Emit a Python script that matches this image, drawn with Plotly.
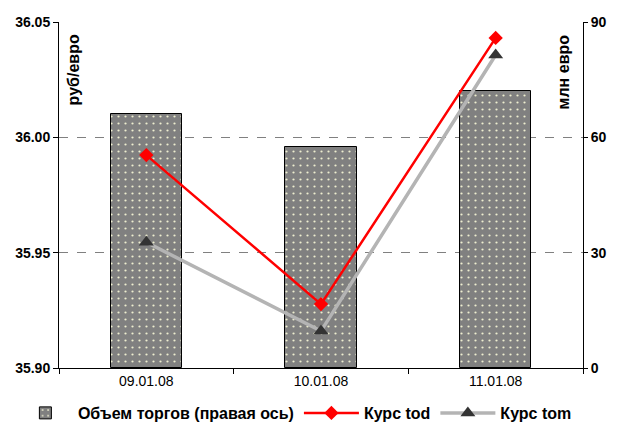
import plotly.graph_objects as go

dates = ["09.01.08", "10.01.08", "11.01.08"]
volume = [66.0, 57.5, 72.0]          # млн евро, правая ось
kurs_tod = [35.9923, 35.9277, 36.0431]  # руб/евро
kurs_tom = [35.9545, 35.9160, 36.0357]

left_ticks = [35.90, 35.95, 36.00, 36.05]
right_ticks = [0, 30, 60, 90]

FONT = "Liberation Sans, Arial, sans-serif"
FS = 14

fig = go.Figure()

fig.add_trace(go.Bar(
    x=dates, y=volume, yaxis="y",
    name="Объем торгов (правая ось)",
    width=0.41,
    marker=dict(
        color="#808080",
        line=dict(color="#000000", width=1),
        pattern=dict(shape=".", fgcolor="#eeeed0", bgcolor="#808080",
                     size=7, solidity=0.08, fillmode="replace"),
    ),
))

fig.add_trace(go.Scatter(
    x=dates, y=kurs_tod, yaxis="y2", mode="lines+markers",
    name="Курс tod",
    line=dict(color="#ff0000", width=2.5),
    marker=dict(symbol="diamond", size=11, color="#ff0000"),
))

fig.add_trace(go.Scatter(
    x=dates, y=kurs_tom, yaxis="y2", mode="lines+markers",
    name="Курс tom",
    line=dict(color="#b4b4b4", width=3.5),
    marker=dict(symbol="triangle-up", size=13, color="#333333"),
))

fig.update_layout(
    width=619, height=424,
    margin=dict(l=59, r=36, t=22, b=56, autoexpand=False),
    paper_bgcolor="white", plot_bgcolor="white",
    font=dict(family=FONT, size=FS, color="#000000"),
    showlegend=True,
    bargap=0,
    xaxis=dict(
        type="category",
        showline=True, linecolor="#000000", linewidth=1,
        ticks="outside", ticklen=5, tickcolor="#000000",
        tickson="boundaries",
        showgrid=False,
        tickfont=dict(family=FONT, size=FS, color="#000000"),
    ),
    yaxis=dict(
        side="right", range=[0, 90], tickvals=right_ticks,
        showline=True, linecolor="#000000", linewidth=1,
        ticks="outside", ticklen=4, tickcolor="#000000",
        showgrid=True, gridcolor="#808080", griddash="dash", gridwidth=1,
        zeroline=False,
        tickfont=dict(family=FONT, size=FS, color="#000000", weight="bold"),
    ),
    yaxis2=dict(
        overlaying="y", side="left", range=[35.90, 36.05],
        tickvals=left_ticks, tickformat=".2f",
        showline=True, linecolor="#000000", linewidth=1,
        ticks="outside", ticklen=5, tickcolor="#000000",
        showgrid=False, zeroline=False,
        tickfont=dict(family=FONT, size=FS, color="#000000", weight="bold"),
    ),
    legend=dict(
        orientation="h", x=-0.088, xanchor="left", y=-0.130, yanchor="middle",
        font=dict(family=FONT, size=16, color="#000000", weight="bold"),
        itemwidth=55, tracegroupgap=0,
        bgcolor="rgba(0,0,0,0)",
    ),
    annotations=[
        dict(text="руб/евро", xref="paper", yref="paper", x=0.0, y=0.97,
             xanchor="left", yanchor="top", xshift=4, textangle=-90, showarrow=False,
             font=dict(family=FONT, size=16, color="#000000", weight="bold")),
        dict(text="млн евро", xref="paper", yref="paper", x=1.0, y=0.97,
             xanchor="right", yanchor="top", xshift=-9, textangle=-90, showarrow=False,
             font=dict(family=FONT, size=16, color="#000000", weight="bold")),
    ],
)

fig.write_html("out.html")
